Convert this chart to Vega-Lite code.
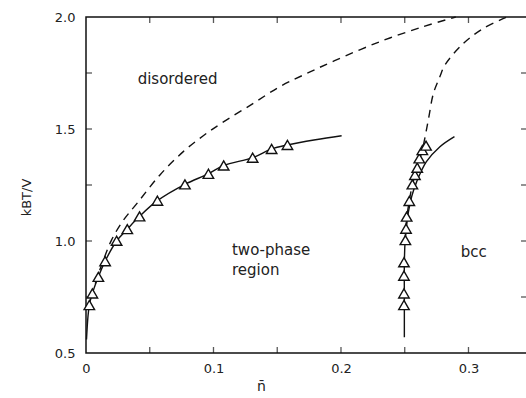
{
  "$schema": "https://vega.github.io/schema/vega-lite/v6.json",
  "width": 441,
  "height": 336,
  "autosize": "none",
  "padding": {"left": 86, "top": 17, "right": 0, "bottom": 45},
  "background": "white",
  "config": {
    "view": {"stroke": "#111", "strokeWidth": 1.5},
    "font": "DejaVu Sans",
    "axis": {
      "domain": false, "ticks": false, "grid": false,
      "labelFont": "DejaVu Sans", "labelFontSize": 13, "labelColor": "#222", "labelFlush": false,
      "titleFont": "DejaVu Sans", "titleFontWeight": "normal", "titleFontSize": 13, "titleColor": "#222"
    }
  },
  "datasets": {
    "xticks": [{"v": 0.05}, {"v": 0.1}, {"v": 0.15}, {"v": 0.2}, {"v": 0.25}, {"v": 0.3}],
    "yticks": [{"v": 0.75}, {"v": 1.0}, {"v": 1.25}, {"v": 1.5}, {"v": 1.75}],
    "curves": [
      {"series": "ls", "ord": 0, "x": 0.0004, "y": 0.56},
      {"series": "ls", "ord": 1, "x": 0.0015, "y": 0.66},
      {"series": "ls", "ord": 2, "x": 0.0026, "y": 0.714},
      {"series": "ls", "ord": 3, "x": 0.005, "y": 0.766},
      {"series": "ls", "ord": 4, "x": 0.0097, "y": 0.84},
      {"series": "ls", "ord": 5, "x": 0.015, "y": 0.91},
      {"series": "ls", "ord": 6, "x": 0.024, "y": 1.0},
      {"series": "ls", "ord": 7, "x": 0.0324, "y": 1.053},
      {"series": "ls", "ord": 8, "x": 0.042, "y": 1.11},
      {"series": "ls", "ord": 9, "x": 0.056, "y": 1.18},
      {"series": "ls", "ord": 10, "x": 0.0776, "y": 1.253},
      {"series": "ls", "ord": 11, "x": 0.096, "y": 1.3},
      {"series": "ls", "ord": 12, "x": 0.108, "y": 1.337},
      {"series": "ls", "ord": 13, "x": 0.1307, "y": 1.372},
      {"series": "ls", "ord": 14, "x": 0.1456, "y": 1.411},
      {"series": "ls", "ord": 15, "x": 0.158, "y": 1.429},
      {"series": "ls", "ord": 16, "x": 0.18, "y": 1.452},
      {"series": "ls", "ord": 17, "x": 0.2005, "y": 1.47},
      {"series": "rs", "ord": 0, "x": 0.2497, "y": 0.57},
      {"series": "rs", "ord": 1, "x": 0.2497, "y": 0.75},
      {"series": "rs", "ord": 2, "x": 0.2497, "y": 0.9},
      {"series": "rs", "ord": 3, "x": 0.2503, "y": 1.0},
      {"series": "rs", "ord": 4, "x": 0.2515, "y": 1.07},
      {"series": "rs", "ord": 5, "x": 0.2529, "y": 1.13},
      {"series": "rs", "ord": 6, "x": 0.2555, "y": 1.2},
      {"series": "rs", "ord": 7, "x": 0.2594, "y": 1.265},
      {"series": "rs", "ord": 8, "x": 0.267, "y": 1.354},
      {"series": "rs", "ord": 9, "x": 0.2776, "y": 1.421},
      {"series": "rs", "ord": 10, "x": 0.289, "y": 1.466},
      {"series": "ld", "ord": 0, "x": 0.004, "y": 0.75},
      {"series": "ld", "ord": 1, "x": 0.009, "y": 0.84},
      {"series": "ld", "ord": 2, "x": 0.014, "y": 0.92},
      {"series": "ld", "ord": 3, "x": 0.02, "y": 1.004},
      {"series": "ld", "ord": 4, "x": 0.029, "y": 1.09},
      {"series": "ld", "ord": 5, "x": 0.04, "y": 1.168},
      {"series": "ld", "ord": 6, "x": 0.058, "y": 1.295},
      {"series": "ld", "ord": 7, "x": 0.0763, "y": 1.399},
      {"series": "ld", "ord": 8, "x": 0.092, "y": 1.47},
      {"series": "ld", "ord": 9, "x": 0.106, "y": 1.525},
      {"series": "ld", "ord": 10, "x": 0.13, "y": 1.61},
      {"series": "ld", "ord": 11, "x": 0.152, "y": 1.689},
      {"series": "ld", "ord": 12, "x": 0.172, "y": 1.745},
      {"series": "ld", "ord": 13, "x": 0.195, "y": 1.805},
      {"series": "ld", "ord": 14, "x": 0.2306, "y": 1.89},
      {"series": "ld", "ord": 15, "x": 0.2646, "y": 1.957},
      {"series": "ld", "ord": 16, "x": 0.29, "y": 2.0},
      {"series": "rd", "ord": 0, "x": 0.2503, "y": 1.0},
      {"series": "rd", "ord": 1, "x": 0.2515, "y": 1.1},
      {"series": "rd", "ord": 2, "x": 0.2536, "y": 1.18},
      {"series": "rd", "ord": 3, "x": 0.256, "y": 1.25},
      {"series": "rd", "ord": 4, "x": 0.2598, "y": 1.33},
      {"series": "rd", "ord": 5, "x": 0.2638, "y": 1.406},
      {"series": "rd", "ord": 6, "x": 0.266, "y": 1.466},
      {"series": "rd", "ord": 7, "x": 0.2688, "y": 1.55},
      {"series": "rd", "ord": 8, "x": 0.2725, "y": 1.659},
      {"series": "rd", "ord": 9, "x": 0.2776, "y": 1.734},
      {"series": "rd", "ord": 10, "x": 0.2816, "y": 1.786},
      {"series": "rd", "ord": 11, "x": 0.296, "y": 1.882},
      {"series": "rd", "ord": 12, "x": 0.3117, "y": 1.949},
      {"series": "rd", "ord": 13, "x": 0.33, "y": 2.0}
    ],
    "points": [
      {"x": 0.0026, "y": 0.714}, {"x": 0.005, "y": 0.766}, {"x": 0.0097, "y": 0.84},
      {"x": 0.015, "y": 0.91}, {"x": 0.024, "y": 1.001}, {"x": 0.0324, "y": 1.053},
      {"x": 0.042, "y": 1.11}, {"x": 0.056, "y": 1.18}, {"x": 0.0776, "y": 1.253},
      {"x": 0.096, "y": 1.3}, {"x": 0.108, "y": 1.337}, {"x": 0.1307, "y": 1.372},
      {"x": 0.1456, "y": 1.411}, {"x": 0.158, "y": 1.429},
      {"x": 0.2494, "y": 0.714}, {"x": 0.2494, "y": 0.766}, {"x": 0.2494, "y": 0.845},
      {"x": 0.2494, "y": 0.905}, {"x": 0.2505, "y": 1.004}, {"x": 0.251, "y": 1.055},
      {"x": 0.2515, "y": 1.109}, {"x": 0.2536, "y": 1.179}, {"x": 0.256, "y": 1.253},
      {"x": 0.258, "y": 1.295}, {"x": 0.2598, "y": 1.327}, {"x": 0.2614, "y": 1.369},
      {"x": 0.2638, "y": 1.406}, {"x": 0.2667, "y": 1.426}
    ],
    "labels": [
      {"x": 0.0405, "y": 1.723, "text": "disordered"},
      {"x": 0.1145, "y": 0.96, "text": "two-phase"},
      {"x": 0.1145, "y": 0.872, "text": "region"},
      {"x": 0.294, "y": 0.951, "text": "bcc"}
    ]
  },
  "layer": [
    {
      "data": {"name": "curves"},
      "transform": [{"filter": "datum.series == 'ls' || datum.series == 'rs'"}],
      "mark": {"type": "line", "color": "#111", "strokeWidth": 1.4, "interpolate": "catmull-rom"},
      "encoding": {
        "x": {"field": "x", "type": "quantitative", "scale": {"domain": [0, 0.3459], "nice": false},
          "axis": {"values": [0, 0.1, 0.2, 0.3], "labelPadding": 9,
            "labelExpr": "datum.value == 0 ? '0' : format(datum.value, '.1f')",
            "title": "n̄", "titleX": 175, "titleY": 26, "titleBaseline": "top", "titleFontSize": 14}},
        "y": {"field": "y", "type": "quantitative", "scale": {"domain": [0.5, 2.0], "nice": false, "zero": false},
          "axis": {"values": [0.5, 1.0, 1.5, 2.0], "labelPadding": 11,
            "labelExpr": "format(datum.value, '.1f')",
            "title": "kBT/V", "titleX": -53, "titleY": 180}},
        "detail": {"field": "series"},
        "order": {"field": "ord", "type": "quantitative"}
      }
    },
    {
      "data": {"name": "xticks"},
      "mark": {"type": "tick", "orient": "vertical", "color": "#111", "size": 12, "thickness": 1.3, "clip": true},
      "encoding": {
        "x": {"field": "v", "type": "quantitative"},
        "y": {"datum": 0.5, "type": "quantitative"}
      }
    },
    {
      "data": {"name": "xticks"},
      "mark": {"type": "tick", "orient": "vertical", "color": "#111", "size": 12, "thickness": 1.3, "clip": true},
      "encoding": {
        "x": {"field": "v", "type": "quantitative"},
        "y": {"datum": 2.0, "type": "quantitative"}
      }
    },
    {
      "data": {"name": "yticks"},
      "mark": {"type": "tick", "orient": "horizontal", "color": "#111", "size": 12, "thickness": 1.3, "clip": true},
      "encoding": {
        "y": {"field": "v", "type": "quantitative"},
        "x": {"datum": 0, "type": "quantitative"}
      }
    },
    {
      "data": {"name": "yticks"},
      "mark": {"type": "tick", "orient": "horizontal", "color": "#111", "size": 12, "thickness": 1.3, "clip": true},
      "encoding": {
        "y": {"field": "v", "type": "quantitative"},
        "x": {"datum": 0.3459, "type": "quantitative"}
      }
    },
    {
      "data": {"name": "curves"},
      "transform": [{"filter": "datum.series == 'ld' || datum.series == 'rd'"}],
      "mark": {"type": "line", "color": "#111", "strokeWidth": 1.4, "strokeDash": [8, 6], "interpolate": "catmull-rom"},
      "encoding": {
        "x": {"field": "x", "type": "quantitative"},
        "y": {"field": "y", "type": "quantitative"},
        "detail": {"field": "series"},
        "order": {"field": "ord", "type": "quantitative"}
      }
    },
    {
      "data": {"name": "points"},
      "mark": {"type": "point", "shape": "triangle-up", "filled": false, "fill": "white", "fillOpacity": 1, "stroke": "#111", "strokeWidth": 1.4, "size": 110, "opacity": 1},
      "encoding": {
        "x": {"field": "x", "type": "quantitative"},
        "y": {"field": "y", "type": "quantitative"}
      }
    },
    {
      "data": {"name": "labels"},
      "mark": {"type": "text", "align": "left", "baseline": "middle", "fontSize": 15, "font": "DejaVu Sans", "color": "#222"},
      "encoding": {
        "x": {"field": "x", "type": "quantitative"},
        "y": {"field": "y", "type": "quantitative"},
        "text": {"field": "text"}
      }
    }
  ]
}
